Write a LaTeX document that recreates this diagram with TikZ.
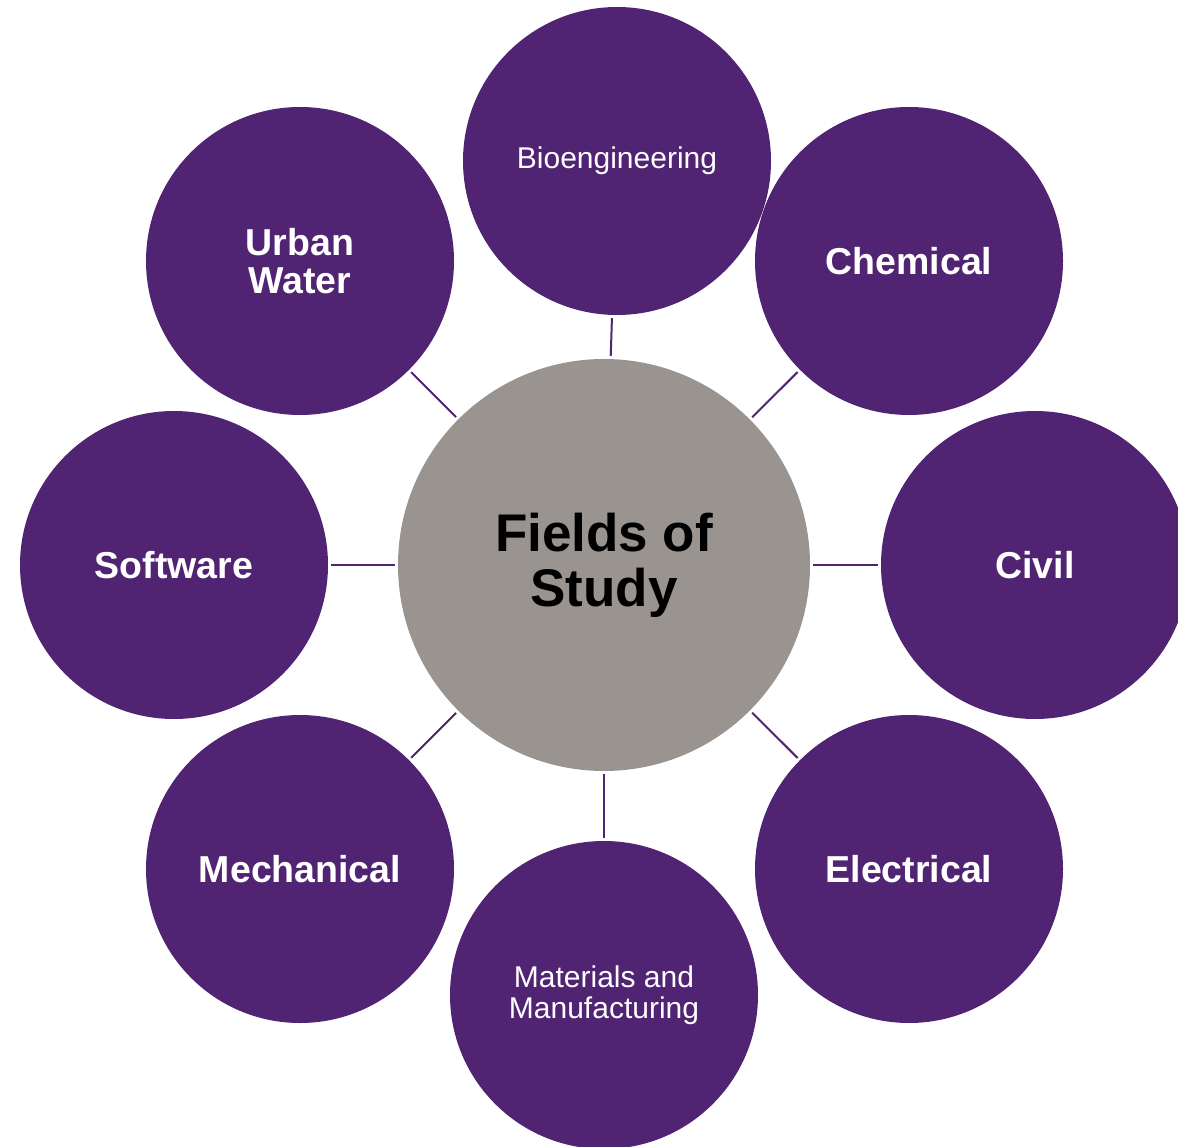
\documentclass[tikz,border=0pt]{standalone}
\usepackage{fontspec}
\setmainfont{Liberation Sans}
\usetikzlibrary{positioning}
\definecolor{fieldpurple}{RGB}{81, 35, 115}
\definecolor{hubgray}{RGB}{153, 148, 144}
\tikzset{
  fieldcircle/.style={circle, fill=fieldpurple, minimum size=308pt, inner sep=0pt, text=white, align=center, font=\fontsize{37.5}{38}\selectfont\bfseries},
  fieldthin/.style={fieldcircle, font=\fontsize{30}{31}\selectfont},
  hubcircle/.style={circle, fill=hubgray, minimum size=412pt, inner sep=0pt, text=black, align=center, font=\fontsize{53}{55}\selectfont\bfseries},
  spoke/.style={draw=fieldpurple, line width=2pt, shorten <=3pt, shorten >=3pt}
}
\begin{document}
\begin{tikzpicture}[x=1pt, y=-1pt]
  \useasboundingbox (0, 0) rectangle (1178, 1147);
  \clip (0, 0) rectangle (1178, 1147);

  % Center
  \node[hubcircle] (hub) at (604, 565) {Fields of\\Study};

  % Fields
  \node[fieldthin] (bio) at (617, 161) {\raisebox{-3pt}{Bioengineering}};
  \node[fieldcircle] (chem) at (909, 261) {Chemical};
  \node[fieldcircle] (civil) at (1035, 565) {Civil};
  \node[fieldcircle] (elec) at (909, 869) {Electrical};
  \node[fieldthin] (mat) at (604, 995) {Materials and\\Manufacturing};
  \node[fieldcircle] (mech) at (300, 869) {Mechanical};
  \node[fieldcircle] (soft) at (174, 565) {Software};
  \node[fieldcircle] (urban) at (300, 261) {Urban\\Water};

  % Spokes
  \foreach \f in {bio, chem, civil, elec, mat, mech, soft, urban}
    \draw[spoke] (\f) -- (hub);
\end{tikzpicture}
\end{document}
